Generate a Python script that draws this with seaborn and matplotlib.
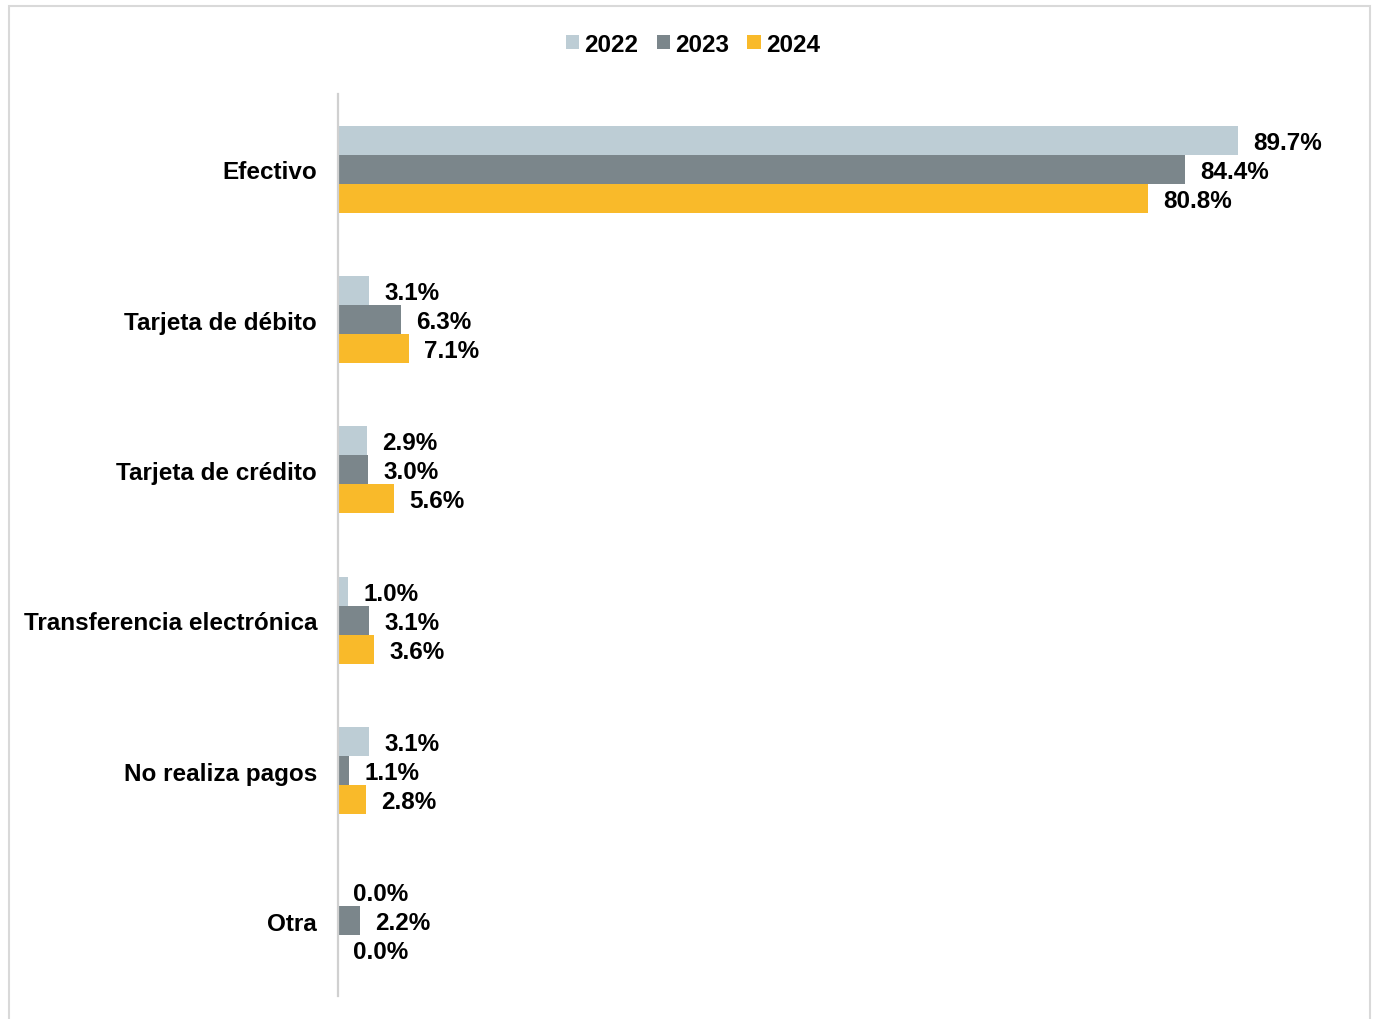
import matplotlib
matplotlib.use("Agg")
import matplotlib.pyplot as plt
from matplotlib.patches import Rectangle
import pandas as pd
import seaborn as sns

# Payment method shares by year (%)
categories = ["Efectivo", "Tarjeta de débito", "Tarjeta de crédito",
              "Transferencia electrónica", "No realiza pagos", "Otra"]
years = ["2022", "2023", "2024"]
values_2022 = [89.7, 3.1, 2.9, 1.0, 3.1, 0.0]
values_2023 = [84.4, 6.3, 3.0, 3.1, 1.1, 2.2]
values_2024 = [80.8, 7.1, 5.6, 3.6, 2.8, 0.0]
colors = ["#BDCDD5", "#7B868B", "#F9BA2A"]

series = {"2022": values_2022, "2023": values_2023, "2024": values_2024}
df = pd.DataFrame([
    {"Medio": c, "Año": y, "Valor": v}
    for y in years for c, v in zip(categories, series[y])
])

sns.set_style("white")
plt.rcParams["font.family"] = ["Liberation Sans", "DejaVu Sans"]
plt.rcParams["text.color"] = "black"
plt.rcParams["ytick.color"] = "black"
FS = 17.5

fig = plt.figure(figsize=(13.74, 10.2), dpi=100)
ax = fig.add_axes([338 / 1374, 23 / 1020, 1003 / 1374, 902 / 1020])

sns.barplot(data=df, y="Medio", x="Valor", hue="Año", order=categories,
            hue_order=years, palette=colors, orient="h", width=0.58,
            linewidth=0, saturation=1, ax=ax)

ax.set_xlim(0, 100)
ax.set_xlabel("")
ax.set_ylabel("")
ax.set_xticks([])
ax.tick_params(axis="y", length=0, pad=15, labelsize=FS, labelcolor="black")
for lbl in ax.get_yticklabels():
    lbl.set_fontweight("bold")

for sp in ["top", "right", "bottom"]:
    ax.spines[sp].set_visible(False)
ax.spines["left"].set_color("#D0D0D0")
ax.spines["left"].set_linewidth(1.6)

for cont, y in zip(ax.containers, years):
    anns = ax.bar_label(cont, labels=[f"{v:.1f}%" for v in series[y]],
                        padding=11, fontsize=FS, fontweight="bold",
                        color="black")
    for a in anns:
        a.xyann = (11, -1.5)

leg = ax.legend(loc="center", bbox_to_anchor=(693 / 1374, 1 - 45 / 1020),
                bbox_transform=fig.transFigure, ncol=3, frameon=False,
                handlelength=0.54, handleheight=0.5, handletextpad=0.22,
                columnspacing=0.75, prop={"size": FS, "weight": "bold"})
for t in leg.get_texts():
    t.set_color("black")

# Light frame around the chart area
fig.patches.append(Rectangle((9 / 1374, -0.05), 1361 / 1374, 1.05 - 7 / 1020,
                             transform=fig.transFigure, fill=False,
                             edgecolor="#D9D9D9", linewidth=1.5))

fig.savefig("out.png", dpi=100)
